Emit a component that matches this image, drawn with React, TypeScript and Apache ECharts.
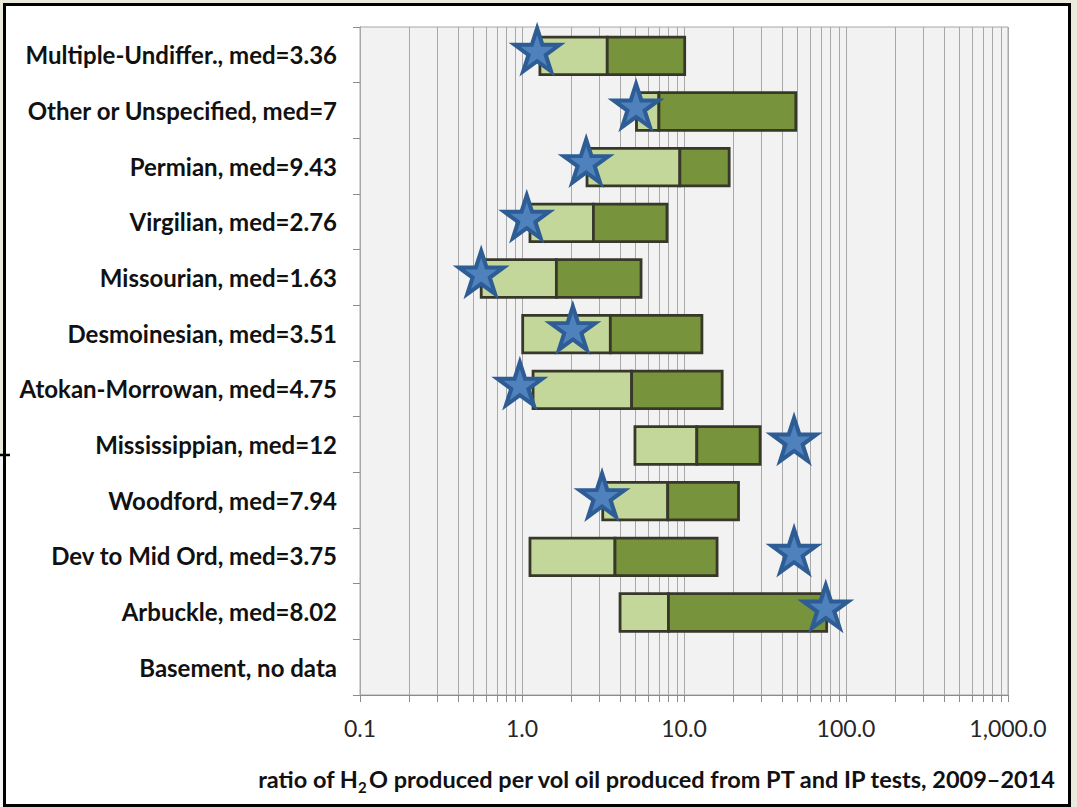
import React, { useEffect, useRef } from 'react';
import * as echarts from 'echarts';

// Formation groups, listed top to bottom
const categories = [
  'Multiple-Undiffer., med=3.36',
  'Other or Unspecified, med=7',
  'Permian, med=9.43',
  'Virgilian, med=2.76',
  'Missourian, med=1.63',
  'Desmoinesian, med=3.51',
  'Atokan-Morrowan, med=4.75',
  'Mississippian, med=12',
  'Woodford, med=7.94',
  'Dev to Mid Ord, med=3.75',
  'Arbuckle, med=8.02',
  'Basement, no data',
];

// Lower quartile, median and upper quartile of the water/oil ratio
const q1Values: (number | null)[] = [1.29, 5.09, 2.52, 1.12, 0.56, 1.01, 1.17, 4.98, 3.15, 1.12, 4.03, null];
const medianValues: (number | null)[] = [3.36, 7, 9.43, 2.76, 1.63, 3.51, 4.75, 12, 7.94, 3.75, 8.02, null];
const q3Values: (number | null)[] = [10.1, 49, 19, 7.85, 5.43, 12.9, 17.2, 29.5, 21.7, 16.0, 76, null];

// Star markers
const starValues: (number | null)[] = [1.24, 5.06, 2.49, 1.07, 0.56, 2.06, 0.97, 47.8, 3.12, 47.8, 75, null];

// Axis tick labels, one per decade
const xTickLabels = ['0.1', '1.0', '10.0', '100.0', '1,000.0'];
const decades = [0.1, 1, 10, 100];
const decadeSteps = [1, 2, 3, 4, 5, 6, 7, 8, 9];

const STAR =
  'path://M0,-100L22.45,-30.9L95.11,-30.9L36.33,11.8L58.78,80.9L0,38.2L-58.78,80.9L-36.33,11.8L-95.11,-30.9L-22.45,-30.9Z';

export default function App() {
  const ref = useRef<HTMLDivElement>(null);

  useEffect(() => {
    if (!ref.current) return;
    const chart = echarts.init(ref.current, null, { renderer: 'svg' });

    const gridValues: number[] = [];
    decades.forEach((d) => decadeSteps.forEach((s) => gridValues.push(+(d * s).toPrecision(3))));
    gridValues.push(1000);

    const boxData = categories
      .map((_, i) =>
        q1Values[i] == null ? null : [i, q1Values[i], medianValues[i], q3Values[i]]
      )
      .filter((d) => d != null);

    const starData = starValues
      .map((v, i) => (v == null ? null : [v, i]))
      .filter((d) => d != null);

    const option: any = {
      animation: false,
      backgroundColor: '#ebe8dc',
      graphic: [
        {
          type: 'rect',
          z: -1,
          shape: { x: 4.5, y: 4.5, width: 1065, height: 801 },
          style: { fill: '#ffffff', stroke: '#000000', lineWidth: 3 },
        },
        {
          type: 'rect',
          z: -1,
          shape: { x: 0, y: 456, width: 3, height: 351 },
          style: { fill: '#f4f4f4' },
        },
        {
          type: 'line',
          z: -1,
          shape: { x1: 0, y1: 455, x2: 10, y2: 455 },
          style: { stroke: '#000000', lineWidth: 2.5 },
        },
        {
          type: 'text',
          x: 1055,
          y: 779,
          style: {
            text: '{a|ratio of H}{s|2}{a|O produced per vol oil produced from PT and IP tests, 2009–2014}',
            align: 'right',
            verticalAlign: 'middle',
            rich: {
              a: { fontFamily: 'Lato', fontWeight: 'bold', fontSize: 23.5, lineHeight: 30, fill: '#111111' },
              s: {
                fontFamily: 'Lato',
                fontWeight: 'bold',
                fontSize: 15,
                lineHeight: 15,
                verticalAlign: 'bottom',
                fill: '#111111',
              },
            },
          },
        },
      ],
      grid: {
        left: 360,
        right: 69,
        top: 27,
        bottom: 112,
        show: true,
        backgroundColor: '#f2f2f2',
        borderColor: '#a6a6a6',
        borderWidth: 1,
        containLabel: false,
      },
      xAxis: {
        type: 'log',
        logBase: 10,
        min: 0.1,
        max: 1000,
        axisLine: { show: true, lineStyle: { color: '#8c8c8c', width: 1 } },
        axisTick: { show: false },
        splitLine: { show: false },
        axisLabel: {
          margin: 21,
          fontFamily: 'Lato',
          fontSize: 23,
          color: '#262626',
          formatter: (v: number) => {
            const idx = Math.round(Math.log10(v)) + 1;
            return xTickLabels[idx] ?? '';
          },
        },
      },
      yAxis: {
        type: 'category',
        data: categories,
        inverse: true,
        axisLine: { show: true, lineStyle: { color: '#8c8c8c', width: 1 } },
        axisTick: { show: true, length: 7, lineStyle: { color: '#8c8c8c' } },
        splitLine: { show: false },
        axisLabel: {
          margin: 23,
          fontFamily: 'Lato',
          fontWeight: 'bold',
          fontSize: 24,
          color: '#111111',
        },
      },
      series: [
        {
          // vertical gridlines and ticks at every decade step
          type: 'custom',
          silent: true,
          clip: false,
          z: 1,
          data: gridValues.map((v) => [v, 0]),
          encode: { x: 0, y: 1 },
          renderItem: (params: any, api: any) => {
            const cs = params.coordSys;
            const x = Math.round(api.coord([api.value(0), 0])[0]) + 0.5;
            const bottom = cs.y + cs.height;
            return {
              type: 'group',
              children: [
                {
                  type: 'line',
                  shape: { x1: x, y1: cs.y, x2: x, y2: bottom },
                  style: { stroke: '#a8a8a8', lineWidth: 1 },
                },
                {
                  type: 'line',
                  shape: { x1: x, y1: bottom, x2: x, y2: bottom + 7 },
                  style: { stroke: '#8c8c8c', lineWidth: 1 },
                },
              ],
            };
          },
        },
        {
          // quartile boxes split at the median
          type: 'custom',
          clip: false,
          z: 3,
          data: boxData,
          encode: { x: [1, 2, 3], y: 0 },
          renderItem: (params: any, api: any) => {
            const cs = params.coordSys;
            const i = api.value(0);
            const a = api.coord([api.value(1), i]);
            const m = api.coord([api.value(2), i]);
            const b = api.coord([api.value(3), i]);
            const band = cs.height / categories.length;
            const h = band * 0.675;
            const y = a[1] - h / 2 + 1;
            const stroke = '#38382a';
            return {
              type: 'group',
              children: [
                {
                  type: 'rect',
                  shape: { x: a[0], y, width: m[0] - a[0], height: h },
                  style: { fill: '#c4d79b', stroke, lineWidth: 2.8 },
                },
                {
                  type: 'rect',
                  shape: { x: m[0], y, width: b[0] - m[0], height: h },
                  style: { fill: '#77933c', stroke, lineWidth: 2.8 },
                },
              ],
            };
          },
        },
        {
          type: 'scatter',
          z: 4,
          data: starData,
          symbol: STAR,
          symbolSize: [45, 43],
          symbolOffset: [0, -5],
          itemStyle: {
            color: '#4f81bd',
            borderColor: '#2e5c94',
            borderWidth: 4,
            borderJoin: 'miter',
            borderMiterLimit: 10,
            opacity: 1,
          },
        },
      ],
    };

    chart.setOption(option);
    return () => chart.dispose();
  }, []);

  return (
    <div
      ref={ref}
      style={{ position: 'fixed', left: 0, top: 0, width: 1077, height: 807 }}
    />
  );
}
